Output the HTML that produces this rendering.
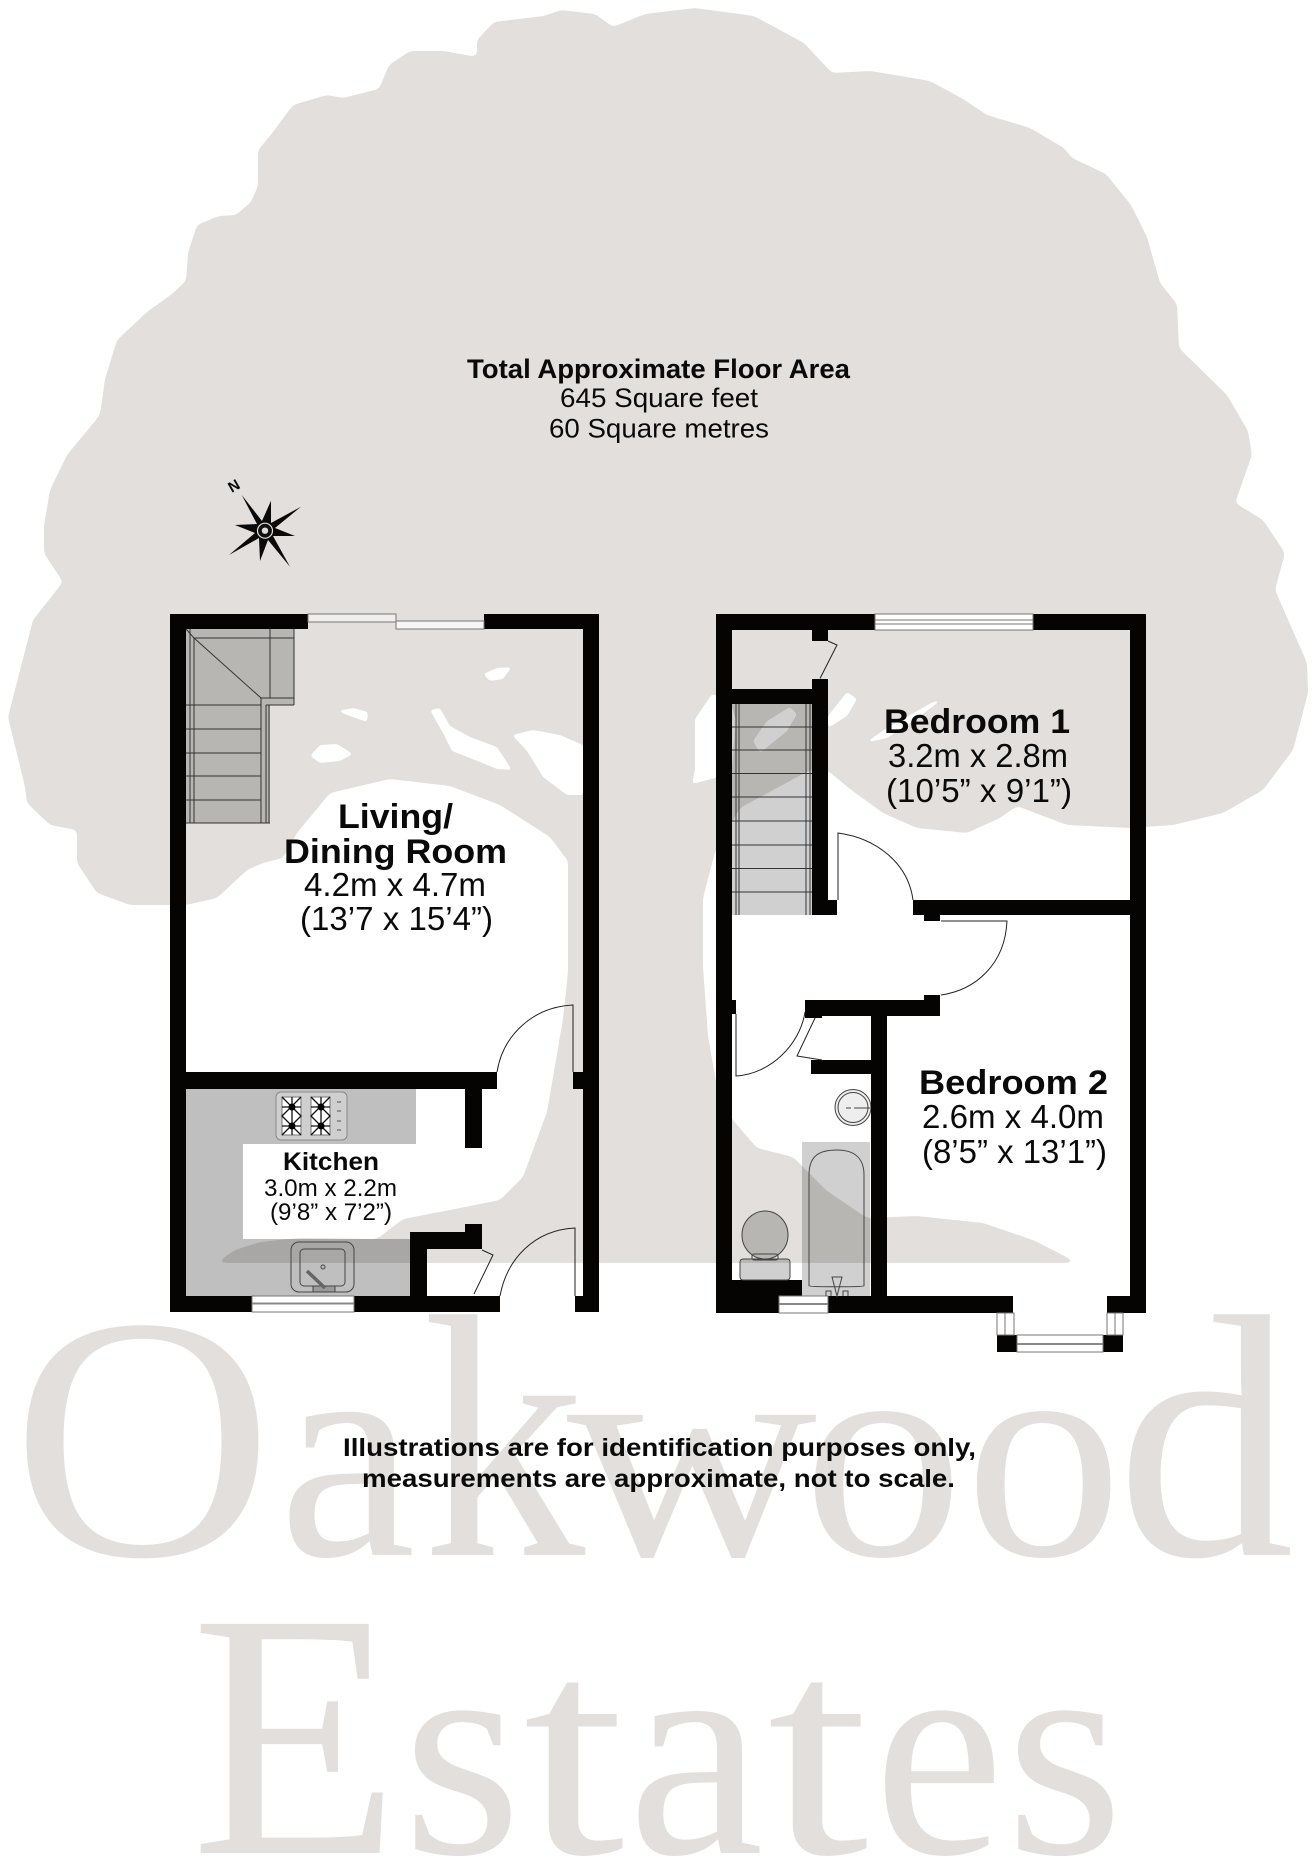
<!DOCTYPE html>
<html><head><meta charset="utf-8"><style>
html,body{margin:0;padding:0;background:#fff}
svg{display:block}
text{font-family:"Liberation Sans",Arial,sans-serif;fill:#0a0a0a}
.b{font-weight:700}
.bg text{font-family:"Liberation Serif","Times New Roman",serif;fill:#e2dfdc}
.m{mix-blend-mode:multiply}
</style></head><body>
<svg width="1313" height="1864" viewBox="0 0 1313 1864" xmlns="http://www.w3.org/2000/svg">
<defs>
<filter id="sm" filterUnits="userSpaceOnUse" x="0" y="0" width="1313" height="1400" color-interpolation-filters="sRGB">
<feGaussianBlur stdDeviation="3"/>
<feComponentTransfer><feFuncA type="linear" slope="16" intercept="-7.5"/></feComponentTransfer>
</filter>
<filter id="sm2" filterUnits="userSpaceOnUse" x="0" y="0" width="1313" height="1400" color-interpolation-filters="sRGB">
<feGaussianBlur stdDeviation="1.5"/>
<feComponentTransfer><feFuncA type="linear" slope="10" intercept="-4.5"/></feComponentTransfer>
</filter>
</defs>
<rect width="1313" height="1864" fill="#fff"/>
<!-- tree -->
<polygon filter="url(#sm)" fill="#e2dfdc" points="63,582 44,553 44,526 50,490 67,455 100,415 105,379 117,340 147,312 172,294 186,281 188,253 197,225 219,216 236,215 251,202 258,186 258,150 270,136 293,105 327,95 343,98 379,89 389,65 410,51 444,51 477,57 477,40 494,22 544,16 561,10 595,14 613,27 645,14 695,8 754,16 804,43 832,73 871,71 930,81 963,99 987,115 1030,128 1064,148 1072,158 1106,174 1131,205 1147,237 1160,283 1177,304 1179,348 1227,395 1248,431 1252,455 1235,503 1263,520 1285,553 1275,590 1307,663 1308,693 1293,750 1263,790 1223,813 1173,825 1130,828 1067,825 1017,806 1000,818 967,833 917,828 883,813 850,789 827,770 810,770 740,808 715,852 703,898 703,967 708,1036 717,1087 732,1119 757,1148 793,1157 827,1191 867,1218 917,1216 983,1223 1033,1240 1078,1263 216,1263 235,1250 260,1242 300,1238 377,1239 403,1219 450,1210 500,1200 523,1177 547,1112 563,1019 568,972 568,861 550,837 500,805 450,786 390,779 330,793 297,833 283,858 263,863 247,870 217,898 186,905 130,905 97,893 77,863 77,830 50,825 27,803 25,787 8,717 33,620"/>
<!-- holes -->
<g fill="#fff" filter="url(#sm2)">
<polygon points="483,674 497,668 512,667 503,679 490,681"/>
<polygon points="310,756 320,745 337,744 353,754 340,761 320,763"/>
<polygon points="430,710 440,708 450,726 470,737 497,747 512,770 497,769 470,758 452,751 443,733"/>
<polygon points="512,735 533,730 560,735 583,745 590,770 583,795 567,795 543,777 527,751"/>
<polygon points="337,711 353,708 368,712 367,722 350,716"/>
<polygon points="828,716 847,692 857,699 847,716 828,728"/>
<polygon points="865,743 887,728 933,702 943,699 913,721 887,738"/>
<polygon points="712,694 695,719 695,770 692,784 715,778 732,768 736,720 730,700"/>
<polygon points="753,741 767,721 790,707 797,714 787,731 760,753"/>
</g>
<!-- watermark -->
<g class="bg" font-size="347">
<text transform="translate(11.7,1555) scale(1.044,1)">O</text>
<text transform="translate(278.6,1555) scale(.89,.88)">a</text>
<text transform="translate(422.7,1555) scale(.9375,1)">k</text>
<text transform="translate(566.7,1555) scale(1,.88)">w</text>
<text transform="translate(802.7,1555) scale(.928,.88)">o</text>
<text transform="translate(964.9,1555) scale(.908,.88)">o</text>
<text transform="translate(1116.4,1555) scale(1.025,1)">d</text>
</g>
<g class="bg" font-size="350">
<text transform="translate(190.9,1853) scale(.977,1)">E</text>
<text transform="translate(402.4,1853) scale(.875,.865)">s</text>
<text transform="translate(523.3,1853) scale(1.042,.865)">t</text>
<text transform="translate(627.7,1853) scale(.875,.865)">a</text>
<text transform="translate(767.3,1853) scale(1.042,.865)">t</text>
<text transform="translate(873.7,1853) scale(.838,.865)">e</text>
<text transform="translate(1005.6,1853) scale(.865,.865)">s</text>
</g>
<!-- counters & stairs fills -->
<g class="m" fill="#bfbfbf">
<polygon points="186,1089 416,1089 416,1144 243,1144 243,1239 410,1239 410,1296 186,1296"/>
</g>
<g class="m" fill="#d0d0d0">
<polygon points="186,629 294,629 294,705 270,705 270,823 186,823"/>
<rect x="732" y="704" width="80" height="211"/>
<rect x="802" y="1142" width="68" height="154"/>
<polygon points="740,1259 790,1259 790,1280 740,1280"/>
<ellipse cx="765" cy="1235" rx="23" ry="24"/>
</g>
<!-- left stair lines -->
<g fill="none" stroke="#333" stroke-width="1">
<path d="M190 629V823M194 638V823M261 698V823M266 705V823M269 705V823M270 629V698M294 629V705M186 705H261M186 729H261M186 753H261M186 776H261M186 800H261M186 823H270M194 638H294M194 638L261 698H294M266 705H294M186 629L194 638"/>
<!-- right stair lines -->
<path d="M736 704V915M739 704V915M806 704V915M810 704V915M732 727H812M732 750H812M732 773.5H812M732 797H812M732 821H812M732 845H812M732 868.5H812M732 892H812"/>
</g>
<!-- walls -->
<g fill="#050403">
<!-- left plan -->
<rect x="170" y="614" width="16" height="698"/>
<rect x="170" y="614" width="138" height="15"/>
<rect x="484" y="614" width="115" height="15"/>
<rect x="583" y="614" width="16" height="698"/>
<rect x="186" y="1072" width="311" height="17"/>
<rect x="573" y="1072" width="10" height="17"/>
<rect x="465" y="1089" width="17" height="59"/>
<rect x="410" y="1232" width="17" height="64"/>
<rect x="410" y="1232" width="72" height="17"/>
<rect x="465" y="1224" width="17" height="25"/>
<rect x="170" y="1296" width="82" height="16"/>
<rect x="354" y="1296" width="146" height="16"/>
<rect x="575" y="1296" width="24" height="16"/>
<!-- right plan -->
<rect x="716" y="614" width="16" height="699"/>
<rect x="716" y="614" width="159" height="16"/>
<rect x="1033" y="614" width="113" height="16"/>
<rect x="1130" y="614" width="16" height="699"/>
<rect x="812" y="630" width="16" height="11"/>
<rect x="812" y="679" width="16" height="236"/>
<rect x="732" y="689" width="80" height="15"/>
<rect x="812" y="900" width="25" height="15"/>
<rect x="913" y="900" width="217" height="15"/>
<rect x="924" y="915" width="16" height="6"/>
<rect x="805" y="1000" width="135" height="16"/>
<rect x="924" y="995" width="16" height="5"/>
<rect x="805" y="1016" width="17" height="2"/>
<rect x="871" y="1016" width="16" height="280"/>
<rect x="811" y="1060" width="60" height="14"/>
<rect x="732" y="1000" width="4" height="14"/>
<rect x="732" y="1280" width="70" height="16"/>
<rect x="716" y="1296" width="63" height="17"/>
<rect x="828" y="1296" width="185" height="17"/>
<rect x="1107" y="1296" width="39" height="17"/>
<rect x="997" y="1335" width="20" height="17"/>
<rect x="1103" y="1335" width="20" height="17"/>
</g>
<!-- windows -->
<g fill="#fff" stroke="#777" stroke-width="1">
<rect x="308" y="614" width="88" height="8" fill="#f0efed"/>
<rect x="396" y="621" width="88" height="8" fill="#f7f6f5"/>
<rect x="875" y="614" width="158" height="16"/>
<path d="M875 620H1033M875 624H1033"/>
<rect x="252" y="1296" width="102" height="16"/>
<path d="M252 1303.5H354" stroke-width="2" stroke="#888"/>
<rect x="779" y="1296" width="49" height="17"/>
<path d="M779 1304H828" stroke-width="2" stroke="#888"/>
<rect x="997" y="1313" width="17" height="22"/>
<path d="M1005 1313V1335"/>
<rect x="1107" y="1313" width="16" height="22"/>
<path d="M1115 1313V1335"/>
<rect x="1017" y="1335" width="86" height="17"/>
<path d="M1017 1344H1103" stroke-width="2" stroke="#888"/>
</g>
<!-- doors -->
<g fill="none" stroke="#222" stroke-width="1">
<path d="M573 1072V1005C533 1007 503 1035 497 1072"/>
<path d="M575 1296V1228C535 1230 507 1258 500 1296"/>
<path d="M474 1294L493 1255L482 1250"/>
<path d="M820 678.5L837 645L828 641"/>
<path d="M838 900V833C875 838 908 862 913 900"/>
<path d="M941 921H1007C1005 965 975 990 941 995"/>
<path d="M736 1014V1076C770 1074 800 1045 805 1012"/>
<path d="M815 1018L797 1056L822 1060"/>
</g>
<!-- hob -->
<g>
<rect x="276" y="1092" width="71" height="48" rx="5" fill="#cfcfcf" stroke="#888"/>
<rect x="282" y="1097" width="19" height="38" fill="#fff" stroke="#777"/>
<rect x="311" y="1097" width="19" height="38" fill="#fff" stroke="#777"/>
<path d="M282 1097L301 1116L282 1135M301 1097L282 1116L301 1135M311 1097L330 1116L311 1135M330 1097L311 1116L330 1135M282 1107H301M282 1126H301M311 1107H330M311 1126H330M292 1097V1135M321 1097V1135" stroke="#111" stroke-width="1.3" fill="none"/>
<circle cx="292" cy="1107" r="3.5" fill="#000"/><circle cx="321" cy="1107" r="3.5" fill="#000"/>
<circle cx="292" cy="1126" r="3.5" fill="#000"/><circle cx="321" cy="1126" r="3.5" fill="#000"/>
<path d="M337 1102H341M337 1111H341M337 1121H341M337 1130H341" stroke="#555"/>
</g>
<!-- sink -->
<g fill="none" stroke="#444">
<rect x="291" y="1242" width="63" height="50" rx="8"/>
<rect x="300" y="1249" width="45" height="37" rx="4"/>
<circle cx="323" cy="1267" r="2"/>
<rect x="313" y="1286" width="22" height="6" fill="#999"/>
<path d="M307 1271L325 1288" stroke-width="3.5" stroke="#666"/>
</g>
<!-- bathroom fixtures -->
<g fill="none" stroke="#444">
<circle cx="853" cy="1107.5" r="18" fill="#eee"/>
<circle cx="853" cy="1107.5" r="15" fill="#eee"/>
<rect x="871" y="1085" width="16" height="45" fill="#050403" stroke="none"/>
<path d="M854 1108H870M846 1108H851"/>
<path d="M809 1286V1175C809 1155 820 1150 837 1150C853 1150 864 1157 864 1175V1286C864 1287 809 1287 809 1286Z"/>
<path d="M832 1277H842L837 1296ZM826 1296V1291H831V1296M843 1296V1291H848V1296"/>
<rect x="740" y="1259" width="50" height="21" rx="3"/>
<ellipse cx="765" cy="1235" rx="23" ry="24"/>
<rect x="752" y="1254" width="26" height="6" rx="2"/>
</g>
<!-- compass -->
<polygon fill="#0a0a0a" points="241.7,495 262,521 271,500.7 271,523 301,506.7 275,528 295,536 273,536 290,566.7 268,540 260,561 259,538 229,555 255,533 235,525 257,524"/>
<circle cx="265" cy="530.7" r="7.5" fill="#111" stroke="#e2dfdc" stroke-width="1.2"/>
<circle cx="265" cy="530.7" r="3.2" fill="#ddd"/>
<text class="b" x="234" y="491" font-size="15" text-anchor="middle" transform="rotate(-30 234 486)">N</text>
<!-- texts -->
<text class="b" x="467" y="378" font-size="27" textLength="383" lengthAdjust="spacingAndGlyphs">Total Approximate Floor Area</text>
<text x="560" y="407" font-size="27" textLength="198" lengthAdjust="spacingAndGlyphs">645 Square feet</text>
<text x="549" y="437.5" font-size="27" textLength="220" lengthAdjust="spacingAndGlyphs">60 Square metres</text>
<text class="b" x="343" y="1456" font-size="25" textLength="633" lengthAdjust="spacingAndGlyphs">Illustrations are for identification purposes only,</text>
<text class="b" x="362" y="1487" font-size="25" textLength="593" lengthAdjust="spacingAndGlyphs">measurements are approximate, not to scale.</text>
<text class="b" x="338" y="828" font-size="34" textLength="115" lengthAdjust="spacingAndGlyphs">Living/</text>
<text class="b" x="284" y="863" font-size="34" textLength="223" lengthAdjust="spacingAndGlyphs">Dining Room</text>
<text x="304" y="896" font-size="33" textLength="182" lengthAdjust="spacingAndGlyphs">4.2m x 4.7m</text>
<text x="300" y="930" font-size="33" textLength="193" lengthAdjust="spacingAndGlyphs">(13’7 x 15’4”)</text>
<text class="b" x="283" y="1170" font-size="25" textLength="96" lengthAdjust="spacingAndGlyphs">Kitchen</text>
<text x="264" y="1196" font-size="24" textLength="133" lengthAdjust="spacingAndGlyphs">3.0m x 2.2m</text>
<text x="270" y="1220" font-size="24" textLength="122" lengthAdjust="spacingAndGlyphs">(9’8” x 7’2”)</text>
<text class="b" x="884" y="733" font-size="34" textLength="186" lengthAdjust="spacingAndGlyphs">Bedroom 1</text>
<text x="888" y="767" font-size="33" textLength="180" lengthAdjust="spacingAndGlyphs">3.2m x 2.8m</text>
<text x="886" y="802" font-size="33" textLength="186" lengthAdjust="spacingAndGlyphs">(10’5” x 9’1”)</text>
<text class="b" x="919" y="1094" font-size="34" textLength="189" lengthAdjust="spacingAndGlyphs">Bedroom 2</text>
<text x="922" y="1128" font-size="33" textLength="182" lengthAdjust="spacingAndGlyphs">2.6m x 4.0m</text>
<text x="922" y="1163" font-size="33" textLength="185" lengthAdjust="spacingAndGlyphs">(8’5” x 13’1”)</text>
</svg>
</body></html>
